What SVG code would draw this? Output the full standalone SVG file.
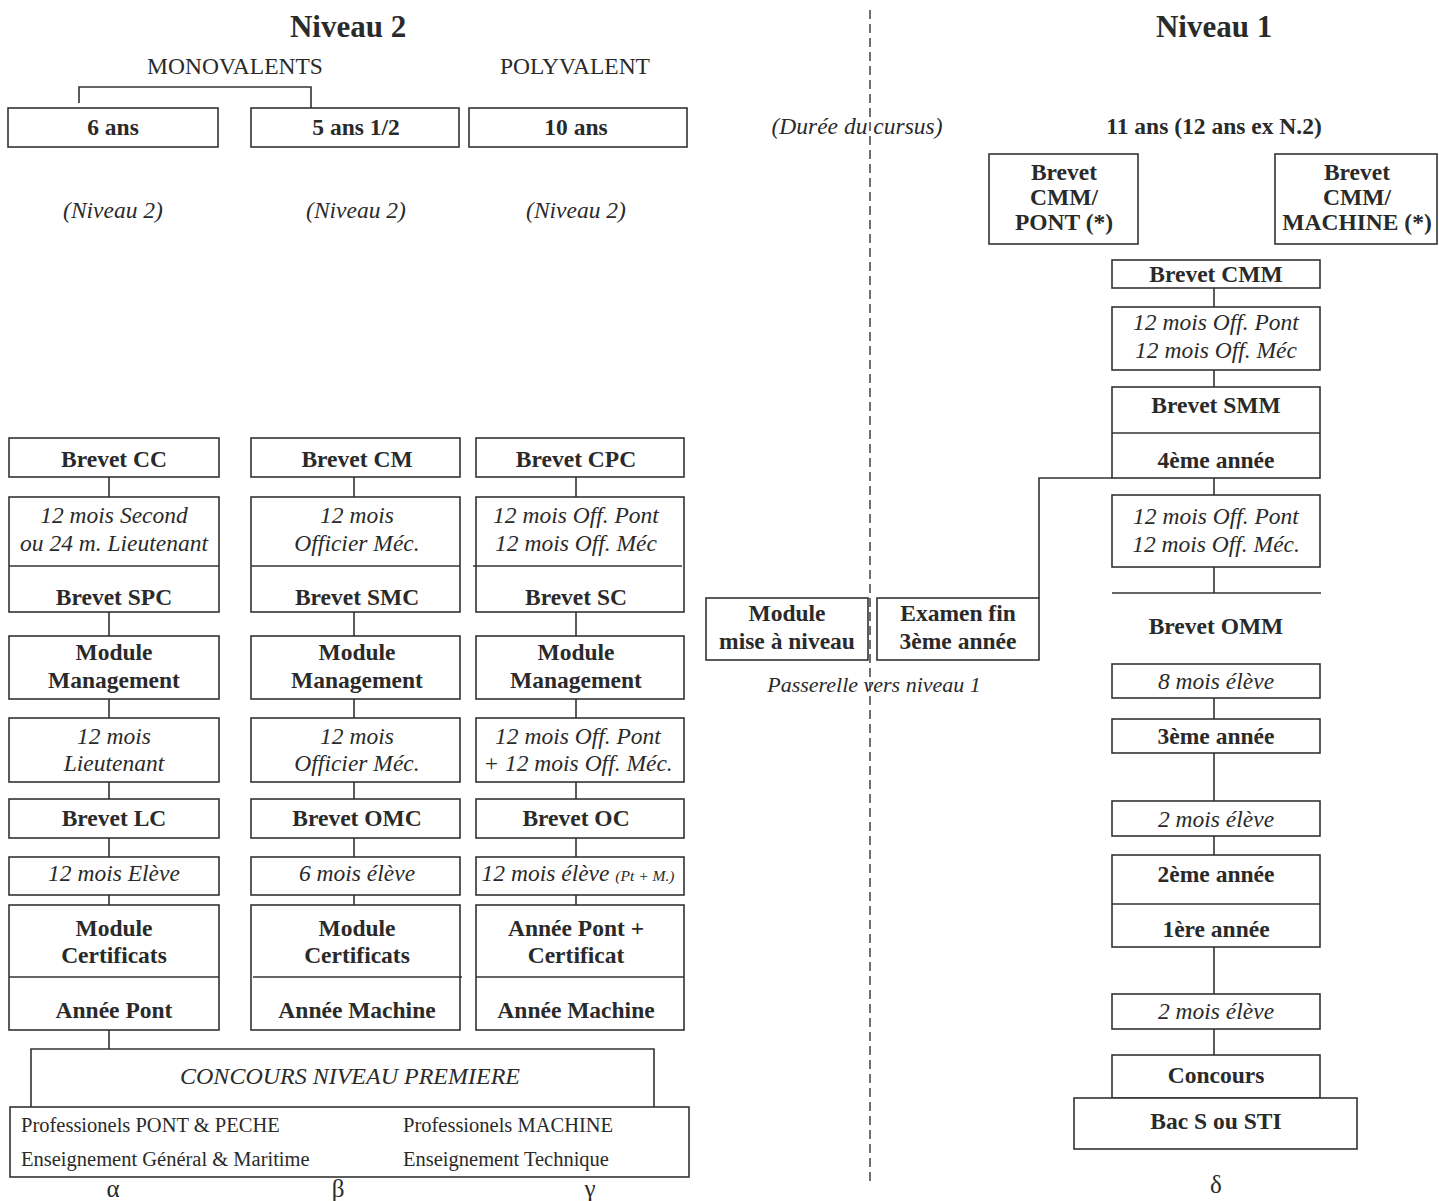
<svg xmlns="http://www.w3.org/2000/svg" width="1439" height="1201" viewBox="0 0 1439 1201">
<style>
.bx{fill:#fff;stroke:#333;stroke-width:1.6}
.ln{fill:none;stroke:#333;stroke-width:1.6}
.dash{fill:none;stroke:#333;stroke-width:1.4;stroke-dasharray:9 5}
text{font-family:"Liberation Serif","Times New Roman",serif;fill:#2a2a2a;text-anchor:middle}
.b{font-weight:bold;font-size:23.5px}
.i{font-style:italic;font-size:23.5px}
.r{font-size:23.5px}
.t{font-weight:bold;font-size:31px}
.s{font-size:20.5px;text-anchor:start}
.g{font-size:25px}
</style>
<rect width="1439" height="1201" fill="#fff"/>

<g id="headers">
<text class="t" x="348" y="37">Niveau 2</text>
<text class="t" x="1214" y="37">Niveau 1</text>
<text class="r" x="235" y="74">MONOVALENTS</text>
<text class="r" x="575" y="74">POLYVALENT</text>
<text class="i" x="113" y="218">(Niveau 2)</text>
<text class="i" x="356" y="218">(Niveau 2)</text>
<text class="i" x="576" y="218">(Niveau 2)</text>
<text class="i" x="857" y="134">(Durée du cursus)</text>
<text class="b" x="1214" y="134">11 ans (12 ans ex N.2)</text>
<text class="i" x="874" y="692" style="font-size:22px">Passerelle vers niveau 1</text>
<text class="g" x="113" y="1197">α</text>
<text class="g" x="338" y="1197">β</text>
<text class="g" x="590" y="1197">γ</text>
<text class="g" x="1216" y="1193">δ</text>
</g>

<g id="connectors">
<line class="dash" x1="870" y1="10" x2="870" y2="1186"/>
<path class="ln" d="M79,103 V87 H311 V108"/>
<!-- alpha -->
<path class="ln" d="M109,477 V497 M109,612 V636 M109,699 V718 M109,782 V799 M109,838 V857 M109,895 V905 M109,1030 V1049"/>
<!-- beta -->
<path class="ln" d="M354,477 V497 M354,612 V636 M354,699 V718 M354,782 V799 M354,838 V857 M354,895 V905"/>
<!-- gamma -->
<path class="ln" d="M576,477 V497 M576,612 V636 M576,699 V718 M576,782 V799 M576,838 V857 M576,895 V905"/>
<!-- delta -->
<path class="ln" d="M1214,288 V307 M1214,370 V387 M1214,478 V495 M1214,567 V593 M1214,698 V719 M1214,753 V801 M1214,836 V855 M1214,947 V994 M1214,1029 V1055"/>
<path class="ln" d="M1112,593 H1321"/>
<path class="ln" d="M1112,478 H1039 V598"/>
</g>

<g id="top-boxes">
<g id="n-6ans"><rect class="bx" x="8" y="108" width="210" height="39"/><text class="b" x="113" y="135">6 ans</text></g>
<g id="n-5ans"><rect class="bx" x="251" y="108" width="208" height="39"/><text class="b" x="356" y="135">5 ans 1/2</text></g>
<g id="n-10ans"><rect class="bx" x="469" y="108" width="218" height="39"/><text class="b" x="576" y="135">10 ans</text></g>
</g>

<g id="col-alpha">
<g id="a1"><rect class="bx" x="9" y="438" width="210" height="39"/><text class="b" x="114" y="467">Brevet CC</text></g>
<g id="a2"><rect class="bx" x="9" y="497" width="210" height="115"/><line class="ln" x1="9" y1="566" x2="219" y2="566"/>
<text class="i" x="114" y="523">12 mois Second</text><text class="i" x="114" y="551">ou 24 m. Lieutenant</text><text class="b" x="114" y="605">Brevet SPC</text></g>
<g id="a3"><rect class="bx" x="9" y="636" width="210" height="63"/><text class="b" x="114" y="660">Module</text><text class="b" x="114" y="688">Management</text></g>
<g id="a4"><rect class="bx" x="9" y="718" width="210" height="64"/><text class="i" x="114" y="744">12 mois</text><text class="i" x="114" y="771">Lieutenant</text></g>
<g id="a5"><rect class="bx" x="9" y="799" width="210" height="39"/><text class="b" x="114" y="826">Brevet LC</text></g>
<g id="a6"><rect class="bx" x="9" y="857" width="210" height="38"/><text class="i" x="114" y="881">12 mois Elève</text></g>
<g id="a7"><rect class="bx" x="9" y="905" width="210" height="125"/><line class="ln" x1="9" y1="977" x2="219" y2="977"/>
<text class="b" x="114" y="936">Module</text><text class="b" x="114" y="963">Certificats</text><text class="b" x="114" y="1018">Année Pont</text></g>
</g>

<g id="col-beta">
<g id="b1"><rect class="bx" x="251" y="438" width="209" height="39"/><text class="b" x="357" y="467">Brevet CM</text></g>
<g id="b2"><rect class="bx" x="251" y="497" width="209" height="115"/><line class="ln" x1="251" y1="566" x2="460" y2="566"/>
<text class="i" x="357" y="523">12 mois</text><text class="i" x="357" y="551">Officier Méc.</text><text class="b" x="357" y="605">Brevet SMC</text></g>
<g id="b3"><rect class="bx" x="251" y="636" width="209" height="63"/><text class="b" x="357" y="660">Module</text><text class="b" x="357" y="688">Management</text></g>
<g id="b4"><rect class="bx" x="251" y="718" width="209" height="64"/><text class="i" x="357" y="744">12 mois</text><text class="i" x="357" y="771">Officier Méc.</text></g>
<g id="b5"><rect class="bx" x="251" y="799" width="209" height="39"/><text class="b" x="357" y="826">Brevet OMC</text></g>
<g id="b6"><rect class="bx" x="251" y="857" width="209" height="38"/><text class="i" x="357" y="881">6 mois élève</text></g>
<g id="b7"><rect class="bx" x="251" y="905" width="209" height="125"/><line class="ln" x1="253" y1="977" x2="462" y2="977"/>
<text class="b" x="357" y="936">Module</text><text class="b" x="357" y="963">Certificats</text><text class="b" x="357" y="1018">Année Machine</text></g>
</g>

<g id="col-gamma">
<g id="c1"><rect class="bx" x="476" y="438" width="208" height="39"/><text class="b" x="576" y="467">Brevet CPC</text></g>
<g id="c2"><rect class="bx" x="476" y="497" width="208" height="115"/><line class="ln" x1="473" y1="566" x2="682" y2="566"/>
<text class="i" x="576" y="523">12 mois Off. Pont</text><text class="i" x="576" y="551">12 mois Off. Méc</text><text class="b" x="576" y="605">Brevet SC</text></g>
<g id="c3"><rect class="bx" x="476" y="636" width="208" height="63"/><text class="b" x="576" y="660">Module</text><text class="b" x="576" y="688">Management</text></g>
<g id="c4"><rect class="bx" x="476" y="718" width="208" height="64"/><text class="i" x="578" y="744">12 mois Off. Pont</text><text class="i" x="578" y="771">+ 12 mois Off. Méc.</text></g>
<g id="c5"><rect class="bx" x="476" y="799" width="208" height="39"/><text class="b" x="576" y="826">Brevet OC</text></g>
<g id="c6"><rect class="bx" x="476" y="857" width="208" height="38"/><text class="i" x="578" y="881">12 mois élève <tspan style="font-size:15.5px">(Pt + M.)</tspan></text></g>
<g id="c7"><rect class="bx" x="476" y="905" width="208" height="125"/><line class="ln" x1="476" y1="977" x2="684" y2="977"/>
<text class="b" x="576" y="936">Année Pont +</text><text class="b" x="576" y="963">Certificat</text><text class="b" x="576" y="1018">Année Machine</text></g>
</g>

<g id="n-concours-premiere">
<path class="ln" d="M31,1107 V1049 H654 V1107"/>
<text class="i" x="350" y="1084" style="font-size:24px">CONCOURS NIVEAU PREMIERE</text>
</g>
<g id="n-origines">
<rect class="bx" x="10" y="1107" width="679" height="70"/>
<text class="s" x="21" y="1132">Professionels PONT &amp; PECHE</text>
<text class="s" x="21" y="1166">Enseignement Général &amp; Maritime</text>
<text class="s" x="403" y="1132">Professionels MACHINE</text>
<text class="s" x="403" y="1166">Enseignement Technique</text>
</g>

<g id="passerelle">
<g id="n-module-niveau"><rect class="bx" x="706" y="598" width="162" height="62"/><text class="b" x="787" y="621">Module</text><text class="b" x="787" y="649">mise à niveau</text></g>
<g id="n-examen"><rect class="bx" x="877" y="598" width="162" height="62"/><text class="b" x="958" y="621">Examen fin</text><text class="b" x="958" y="649">3ème année</text></g>
</g>

<g id="col-delta">
<g id="d-pont"><rect class="bx" x="989" y="154" width="149" height="90"/><text class="b" x="1064" y="180">Brevet</text><text class="b" x="1064" y="205">CMM/</text><text class="b" x="1064" y="230">PONT (*)</text></g>
<g id="d-machine"><rect class="bx" x="1275" y="154" width="162" height="90"/><text class="b" x="1357" y="180">Brevet</text><text class="b" x="1357" y="205">CMM/</text><text class="b" x="1357" y="230">MACHINE (*)</text></g>
<g id="d1"><rect class="bx" x="1112" y="260" width="208" height="28"/><text class="b" x="1216" y="282">Brevet CMM</text></g>
<g id="d2"><rect class="bx" x="1112" y="307" width="208" height="63"/><text class="i" x="1216" y="330">12 mois Off. Pont</text><text class="i" x="1216" y="358">12 mois Off. Méc</text></g>
<g id="d3"><rect class="bx" x="1112" y="387" width="208" height="91"/><line class="ln" x1="1112" y1="433" x2="1320" y2="433"/><text class="b" x="1216" y="413">Brevet SMM</text><text class="b" x="1216" y="468">4ème année</text></g>
<g id="d4"><rect class="bx" x="1112" y="495" width="208" height="72"/><text class="i" x="1216" y="524">12 mois Off. Pont</text><text class="i" x="1216" y="552">12 mois Off. Méc.</text></g>
<g id="d5"><text class="b" x="1216" y="634">Brevet OMM</text></g>
<g id="d6"><rect class="bx" x="1112" y="664" width="208" height="34"/><text class="i" x="1216" y="689">8 mois élève</text></g>
<g id="d7"><rect class="bx" x="1112" y="719" width="208" height="34"/><text class="b" x="1216" y="744">3ème année</text></g>
<g id="d8"><rect class="bx" x="1112" y="801" width="208" height="35"/><text class="i" x="1216" y="827">2 mois élève</text></g>
<g id="d9"><rect class="bx" x="1112" y="855" width="208" height="92"/><line class="ln" x1="1112" y1="904" x2="1320" y2="904"/><text class="b" x="1216" y="882">2ème année</text><text class="b" x="1216" y="937">1ère année</text></g>
<g id="d10"><rect class="bx" x="1112" y="994" width="208" height="35"/><text class="i" x="1216" y="1019">2 mois élève</text></g>
<g id="d11"><rect class="bx" x="1112" y="1055" width="208" height="43"/><text class="b" x="1216" y="1083">Concours</text></g>
<g id="d12"><rect class="bx" x="1074" y="1098" width="283" height="51"/><text class="b" x="1216" y="1129">Bac S ou STI</text></g>
</g>
</svg>
